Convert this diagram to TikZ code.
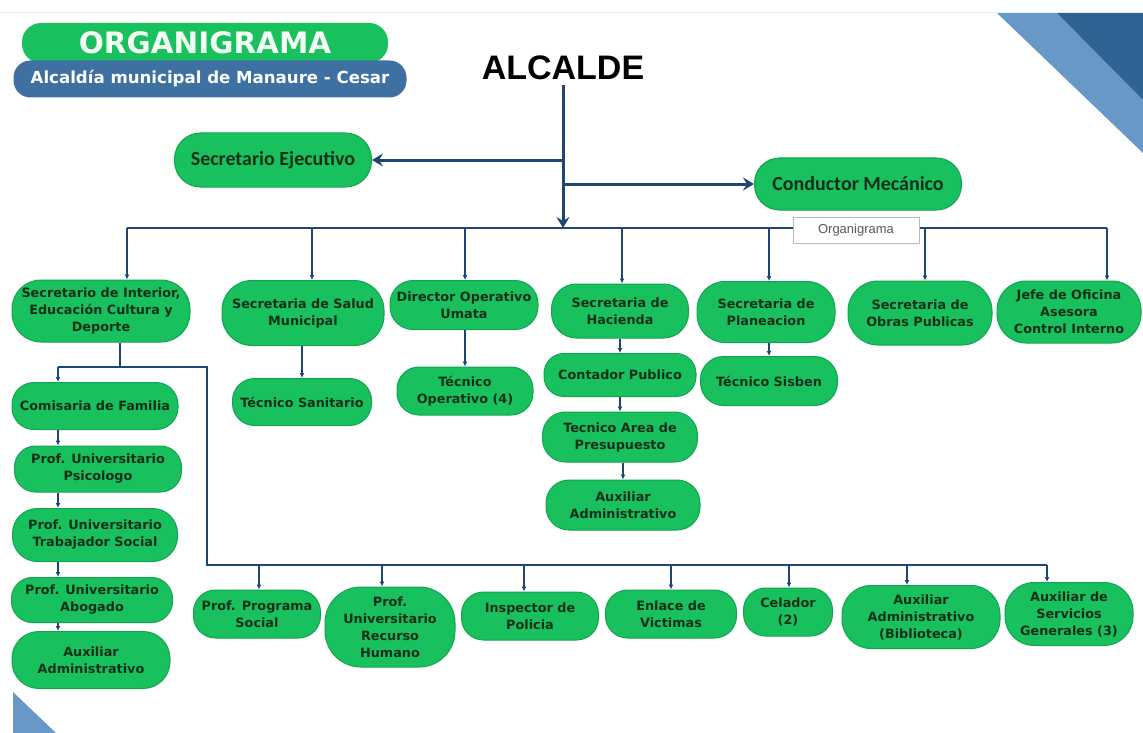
\documentclass[tikz,border=0pt]{standalone}
\usepackage{fontspec}
\setmainfont{Carlito}
\newfontfamily\hfont{Liberation Sans}
\newfontfamily\dfont{DejaVu Sans}
\usetikzlibrary{arrows.meta}
\definecolor{gfill}{RGB}{24,192,94}
\definecolor{gedge}{RGB}{16,165,78}
\definecolor{gtext}{RGB}{14,48,26}
\definecolor{navy}{RGB}{30,70,115}
\definecolor{bband}{RGB}{62,112,162}
\definecolor{lblue}{RGB}{104,152,198}
\definecolor{dblue}{RGB}{48,98,148}
\begin{document}
\begin{tikzpicture}[x=1pt,y=-1pt,
  gbox/.style={draw=gedge, line width=1pt, fill=gfill, text=gtext,
    font=\dfont\bfseries\fontsize{12.8}{17}\selectfont, align=center, inner sep=0pt},
  bigbox/.style={gbox, font=\bfseries\fontsize{20}{22}\selectfont},
  bar/.style={navy, line width=2.5pt},
  mainarrow/.style={navy, line width=3pt, -{Stealth[length=11pt,width=13pt,inset=4pt]}},
  drop/.style={navy, line width=1.4pt, -{Latex[length=5pt,width=5pt]}}
]
\useasboundingbox (0,0) rectangle (1143,733);
\fill[white] (0,0) rectangle (1143,733);
% decorations
\draw[gray!15, line width=1pt] (0,13) -- (997,13);
\fill[lblue] (997,13) -- (1057,13) -- (1143,100) -- (1143,153) -- cycle;
\fill[dblue] (1057,13) -- (1143,13) -- (1143,100) -- cycle;
\fill[lblue] (13,692) -- (13,733) -- (56,733) -- cycle;

% header
\node[fill=gfill, rounded corners=19pt, minimum width=366pt, minimum height=40pt, inner sep=0pt,
  text=green!5, font=\dfont\bfseries\fontsize{29.5}{31}\selectfont] (title) at (205,43) {ORGANIGRAMA};
\node[fill=bband, rounded corners=17pt, minimum width=393pt, minimum height=37pt, inner sep=0pt,
  text=white, font=\dfont\bfseries\fontsize{16.6}{18}\selectfont] (subtitle) at (210,79) {Alcaldía municipal de Manaure - Cesar};
\node[font=\hfont\bfseries\fontsize{34}{36}\selectfont, inner sep=0pt] (alc) at (563,68) {ALCALDE};

% top level
\node[bigbox, minimum width=197pt, minimum height=54pt, rounded corners=26pt] (se) at (273,160) {Secretario Ejecutivo};
\node[bigbox, minimum width=207pt, minimum height=52pt, rounded corners=25pt] (cm) at (858,184) {Conductor Mecánico};
\coordinate (bus) at (563,228);

% level 2
\node[gbox, minimum width=178pt, minimum height=62pt, rounded corners=29pt] (int) at (101,311) {Secretario de Interior,\\Educación Cultura y\\Deporte};
\node[gbox, minimum width=162pt, minimum height=65pt, rounded corners=30pt] (sal) at (303,313) {Secretaria de Salud\\Municipal};
\node[gbox, minimum width=148pt, minimum height=49pt, rounded corners=23pt] (dir) at (464,305) {Director Operativo\\Umata};
\node[gbox, minimum width=137pt, minimum height=54pt, rounded corners=25pt] (hac) at (620,311) {Secretaria de\\Hacienda};
\node[gbox, minimum width=138pt, minimum height=61pt, rounded corners=28pt] (pla) at (766,312) {Secretaria de\\Planeacion};
\node[gbox, minimum width=144pt, minimum height=64pt, rounded corners=30pt] (obr) at (920,313) {Secretaria de\\Obras Publicas};
\node[gbox, minimum width=144pt, minimum height=62pt, rounded corners=29pt] (jef) at (1069,312) {Jefe de Oficina\\Asesora\\Control Interno};

% level 3
\node[gbox, minimum width=139pt, minimum height=47pt, rounded corners=22pt] (tsa) at (302,402) {Técnico Sanitario};
\node[gbox, minimum width=136pt, minimum height=48pt, rounded corners=22pt] (top) at (465,391) {Técnico\\Operativo (4)};
\node[gbox, minimum width=152pt, minimum height=43pt, rounded corners=20pt] (con) at (620,375) {Contador Publico};
\node[gbox, minimum width=155pt, minimum height=50pt, rounded corners=23pt] (tap) at (620,437) {Tecnico Area de\\Presupuesto};
\node[gbox, minimum width=154pt, minimum height=50pt, rounded corners=23pt] (auxa) at (623,505) {Auxiliar\\Administrativo};
\node[gbox, minimum width=137pt, minimum height=49pt, rounded corners=23pt] (tsi) at (769,381) {Técnico Sisben};

% left column
\node[gbox, minimum width=166pt, minimum height=47pt, rounded corners=22pt] (com) at (95,406) {Comisaria de Familia};
\node[gbox, minimum width=167pt, minimum height=46pt, rounded corners=21pt] (psi) at (98,469) {Prof. Universitario\\Psicologo};
\node[gbox, minimum width=165pt, minimum height=53pt, rounded corners=25pt] (tra) at (95,535) {Prof. Universitario\\Trabajador Social};
\node[gbox, minimum width=161pt, minimum height=45pt, rounded corners=21pt] (abo) at (92,600) {Prof. Universitario\\Abogado};
\node[gbox, minimum width=158pt, minimum height=57pt, rounded corners=27pt] (auxb) at (91,660) {Auxiliar\\Administrativo};

% bottom row
\node[gbox, minimum width=127pt, minimum height=48pt, rounded corners=22pt] (pps) at (257,614) {Prof. Programa\\Social};
\node[gbox, minimum width=130pt, minimum height=80pt, rounded corners=36pt] (prh) at (390,627) {Prof.\\Universitario\\Recurso\\Humano};
\node[gbox, minimum width=137pt, minimum height=48pt, rounded corners=22pt] (ins) at (530,616) {Inspector de\\Policia};
\node[gbox, minimum width=131pt, minimum height=48pt, rounded corners=22pt] (enl) at (671,614) {Enlace de\\Victimas};
\node[gbox, minimum width=89pt, minimum height=48pt, rounded corners=22pt] (cel) at (788,612) {Celador\\(2)};
\node[gbox, minimum width=158pt, minimum height=63pt, rounded corners=29pt] (aub) at (921,617) {Auxiliar\\Administrativo\\(Biblioteca)};
\node[gbox, minimum width=128pt, minimum height=63pt, rounded corners=29pt] (asg) at (1069,614) {Auxiliar de\\Servicios\\Generales (3)};

% main connectors
\draw[mainarrow] (alc.south) ++(0,5) -- (bus);
\draw[mainarrow] (alc.south |- se.east) -- (se.east);
\draw[mainarrow] (alc.south |- cm.west) -- (cm.west);
\draw[bar] ([xshift=26]int.north |- bus) -- ([xshift=38]jef.north |- bus);
\draw[drop] ([xshift=26]int.north |- bus) -- ([xshift=26]int.north);
\draw[drop] ([xshift=9]sal.north |- bus) -- ([xshift=9]sal.north);
\draw[drop] ([xshift=1]dir.north |- bus) -- ([xshift=1]dir.north);
\draw[drop] ([xshift=2]hac.north |- bus) -- ([xshift=2]hac.north);
\draw[drop] ([xshift=3]pla.north |- bus) -- ([xshift=3]pla.north);
\draw[drop] ([xshift=5]obr.north |- bus) -- ([xshift=5]obr.north);
\draw[drop] ([xshift=38]jef.north |- bus) -- ([xshift=38]jef.north);
\node[draw=gray!55, fill=white, text=gray!70!black, font=\hfont\fontsize{13}{15}\selectfont,
  minimum width=126pt, minimum height=26pt, inner sep=0pt] (lbl) at (856,230) {Organigrama};

% level 3 connectors
\draw[drop] (sal.south -| tsa.north) -- (tsa.north);
\draw[drop] (dir.south -| top.north) -- (top.north);
\draw[drop] (hac.south) -- (con.north);
\draw[drop] (con.south) -- (tap.north);
\draw[drop] (tap.south -| auxa.north) -- (auxa.north);
\draw[drop] (pla.south -| tsi.north) -- (tsi.north);

% left branch
\coordinate (lj) at (120,367);
\coordinate (cl) at (58,367);
\coordinate (cr) at (207,367);
\coordinate (bl) at (207,565);
\coordinate (br) at (1047,565);
\draw[bar] ([xshift=19]int.south) -- (lj);
\draw[bar] (cl) -- (cr) -- (bl) -- (br);
\draw[drop] (cl) -- (cl |- com.north);
\draw[drop] (com.south -| cl) -- (psi.north -| cl);
\draw[drop] (psi.south -| cl) -- (tra.north -| cl);
\draw[drop] (tra.south -| cl) -- (abo.north -| cl);
\draw[drop] (abo.south -| cl) -- (auxb.north -| cl);

% bottom row connectors
\draw[drop] ([xshift=2]pps.north |- bl) -- ([xshift=2]pps.north);
\draw[drop] ([xshift=-8]prh.north |- bl) -- ([xshift=-8]prh.north);
\draw[drop] ([xshift=-6]ins.north |- bl) -- ([xshift=-6]ins.north);
\draw[drop] (enl.north |- bl) -- (enl.north);
\draw[drop] ([xshift=1]cel.north |- bl) -- ([xshift=1]cel.north);
\draw[drop] ([xshift=-14]aub.north |- bl) -- ([xshift=-14]aub.north);
\draw[drop] (br) -- (br |- asg.north);
\end{tikzpicture}
\end{document}
